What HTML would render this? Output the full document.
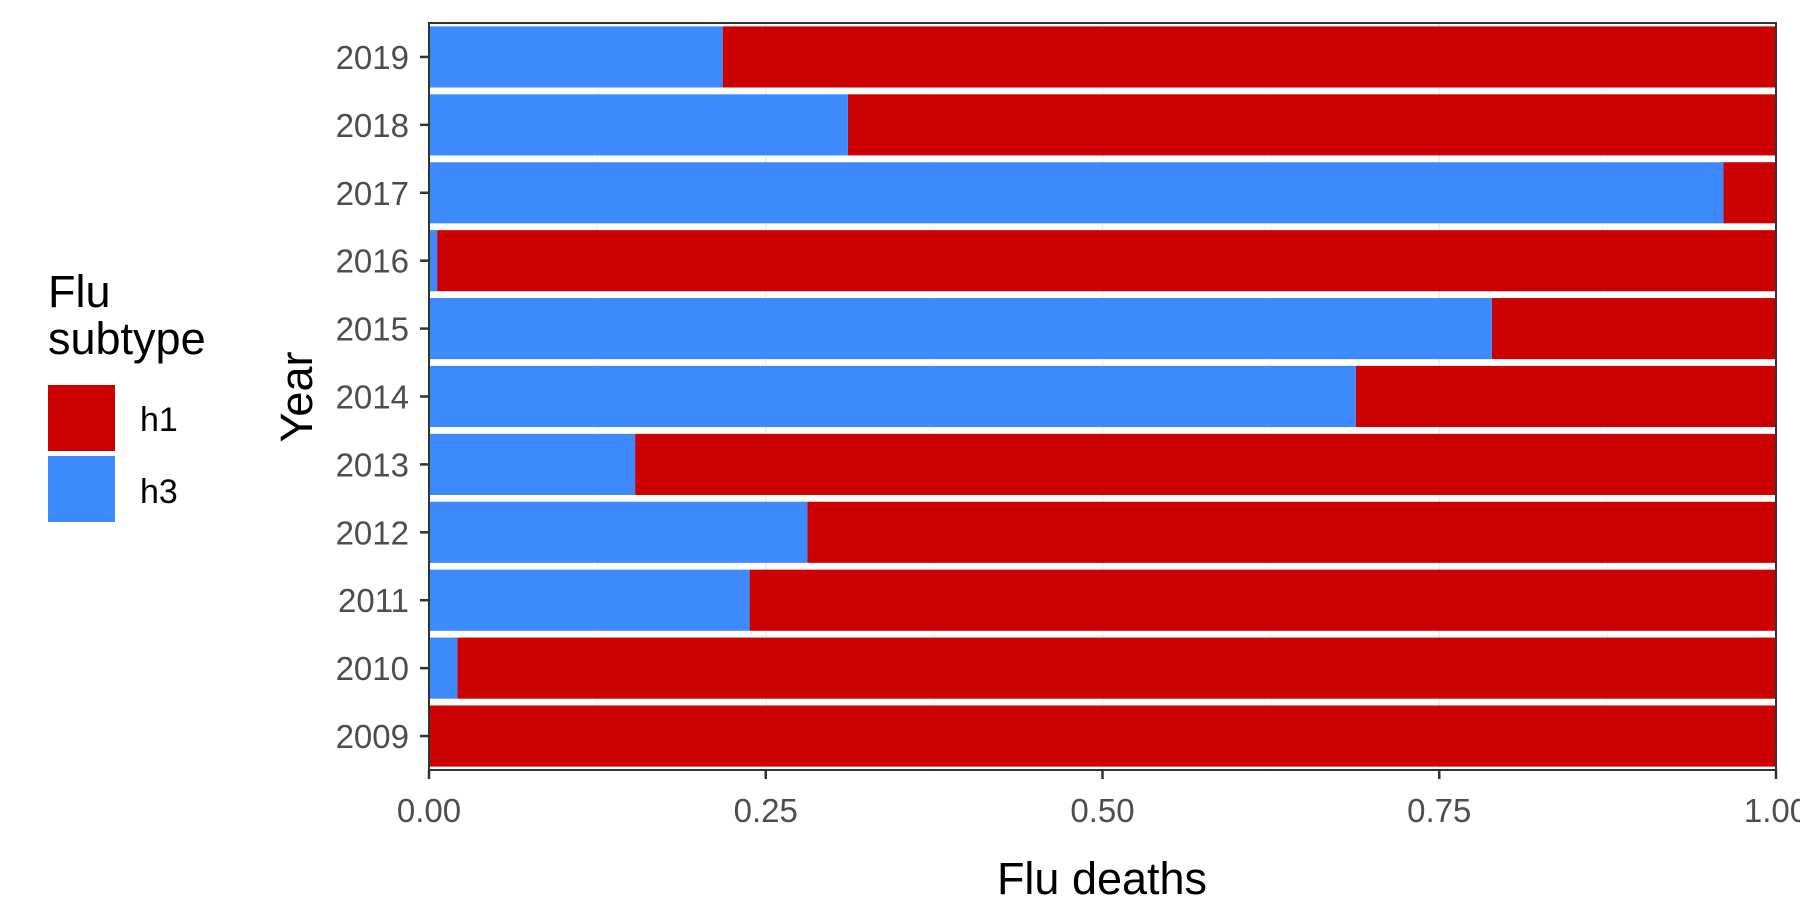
<!DOCTYPE html>
<html><head><meta charset="utf-8"><style>
body{margin:0;background:#fff;}
svg{font-family:"Liberation Sans",Arial,sans-serif;}
</style></head><body>
<svg id="chart" width="1800" height="900" viewBox="0 0 1800 900">
<rect width="1800" height="900" fill="#fff"/>
<g id="grid"></g><g id="bars"></g><g id="axes"></g>
<text x="1102" y="894" font-size="45" text-anchor="middle" fill="#000">Flu deaths</text>
<text transform="translate(312,397) rotate(-90)" font-size="45" text-anchor="middle" fill="#000">Year</text>
<g>
<text x="48" y="307" font-size="45" fill="#000">Flu</text>
<text x="48" y="354" font-size="45" fill="#000">subtype</text>
<rect x="48" y="385" width="67" height="66" fill="#CC0000"/>
<rect x="48" y="456" width="67" height="66" fill="#3D8AFF"/>
<text x="140" y="431" font-size="34" fill="#000">h1</text>
<text x="140" y="503" font-size="34" fill="#000">h3</text>
</g>
</svg>
<script>
const years = [2009,2010,2011,2012,2013,2014,2015,2016,2017,2018,2019];
const h3Share = [0,0.021,0.238,0.281,0.153,0.688,0.789,0.006,0.961,0.311,0.218];
const xTicks = [0,0.25,0.5,0.75,1];
const xTickLabels = ["0.00","0.25","0.50","0.75","1.00"];
const L=429,R=1776,T=23,B=770;
const NS="http://www.w3.org/2000/svg";
const xs=v=>L+v*(R-L);
const band=(B-T)/years.length;
const yc=i=>B-(i+0.5)*band;
function mk(t,a,p){const e=document.createElementNS(NS,t);for(const k in a)e.setAttribute(k,a[k]);p.appendChild(e);return e;}
const grid=document.getElementById('grid'),bars=document.getElementById('bars'),axes=document.getElementById('axes');
mk('rect',{x:L,y:T,width:R-L,height:B-T,fill:'#fff'},grid);
[0.125,0.375,0.625,0.875].forEach(v=>mk('line',{x1:xs(v),x2:xs(v),y1:T,y2:B,stroke:'#f2f2f2','stroke-width':1},grid));
xTicks.forEach(v=>mk('line',{x1:xs(v),x2:xs(v),y1:T,y2:B,stroke:'#ebebeb','stroke-width':1.5},grid));
years.forEach((y,i)=>{
  const h=band*0.9, top=yc(i)-h/2, s=h3Share[i];
  const r1=mk('rect',{x:xs(s),y:top,width:xs(1)-xs(s),height:h,fill:'#CC0000'},bars);
  
  
  const r3=mk('rect',{x:xs(0),y:top,width:xs(s)-xs(0),height:h,fill:'#3D8AFF'},bars);
  
  
  mk('line',{x1:L-9,x2:L,y1:yc(i),y2:yc(i),stroke:'#333','stroke-width':2.5},axes);
  const t=mk('text',{x:L-20,y:yc(i)+12,'font-size':33,'text-anchor':'end',fill:'#4d4d4d'},axes);
  t.textContent=y;
  
  
});
xTicks.forEach((v,i)=>{
  mk('line',{x1:xs(v),x2:xs(v),y1:B,y2:B+9,stroke:'#333','stroke-width':2.5},axes);
  const t=mk('text',{x:xs(v),y:B+52,'font-size':33,'text-anchor':'middle',fill:'#4d4d4d'},axes);
  t.textContent=xTickLabels[i];
  
  
});
mk('rect',{x:L,y:T,width:R-L,height:B-T,fill:'none',stroke:'#333','stroke-width':2},axes);
</script>
</body></html>
